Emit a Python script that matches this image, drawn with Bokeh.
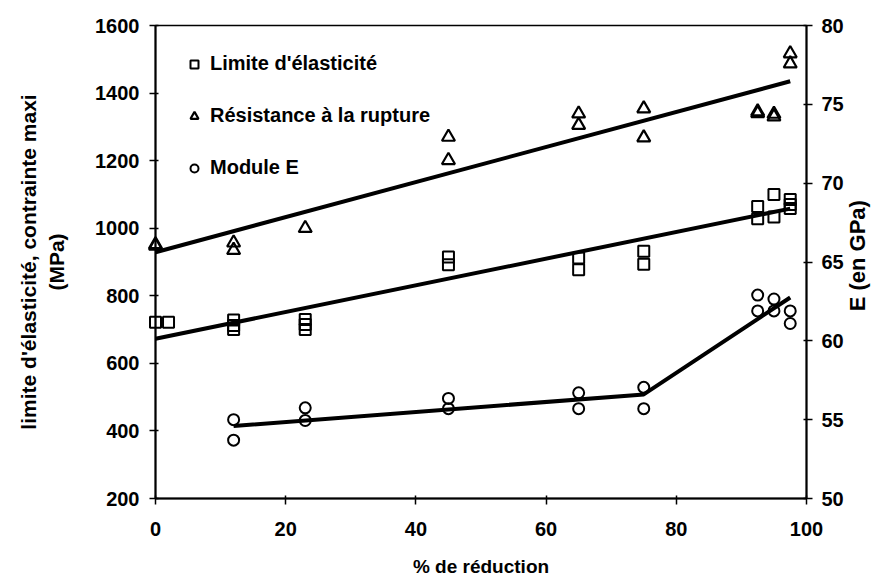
import math
from bokeh.plotting import figure
from bokeh.models import Range1d, LinearAxis, FixedTicker, Legend, LegendItem
from bokeh.core.properties import value
from bokeh.embed import file_html
from bokeh.resources import INLINE

# ---- data ----
lim_x = [0, 2, 12, 12, 12, 23, 23, 23, 45, 45, 65, 65, 75, 75, 92.5, 92.5, 95, 95, 97.5, 97.5, 97.5]
lim_y = [722, 722, 728, 712, 700, 730, 715, 700, 915, 892, 912, 877, 932, 893, 1064, 1028, 1100, 1033, 1085, 1070, 1058]

res_x = [0, 0, 12, 12, 23, 45, 45, 65, 65, 75, 75, 92.5, 92.5, 95, 95, 97.5, 97.5]
res_y = [952, 948, 957, 935, 1000, 1270, 1201, 1339, 1305, 1354, 1268, 1345, 1340, 1338, 1330, 1517, 1487]

mod_x = [12, 12, 23, 23, 45, 45, 65, 65, 75, 75, 92.5, 92.5, 95, 95, 97.5, 97.5]
mod_y = [55.0, 53.7, 55.75, 54.95, 56.35, 55.7, 56.7, 55.7, 57.05, 55.7, 62.9, 61.9, 62.65, 61.9, 61.9, 61.1]

trend_lim_x = [0, 97.5]
trend_lim_y = [673, 1058]
trend_res_x = [0, 97.5]
trend_res_y = [929, 1435]
trend_mod_x = [12, 75, 97.5]
trend_mod_y = [54.6, 56.6, 62.75]

x_ticks = [0, 20, 40, 60, 80, 100]
left_ticks = [200, 400, 600, 800, 1000, 1200, 1400, 1600]
right_ticks = [50, 55, 60, 65, 70, 75, 80]

labels = ["Limite d'élasticité", "Résistance à la rupture", "Module E"]
x_title = "% de réduction"
left_title = "limite d'élasticité, contrainte maxi\n(MPa)"
right_title = "E (en GPa)"

FONT = "Liberation Sans"

p = figure(width=872, height=585, x_range=Range1d(0, 100), y_range=Range1d(200, 1600),
           output_backend="svg", toolbar_location=None,
           min_border_left=155, min_border_right=66, min_border_top=25, min_border_bottom=87)
p.extra_y_ranges = {"E": Range1d(50, 80)}
p.xgrid.visible = False
p.ygrid.visible = False
p.outline_line_color = "black"
p.outline_line_width = 1.5
p.background_fill_color = "white"
p.border_fill_color = "white"

def style_axis(ax, ticks):
    ax.ticker = FixedTicker(ticks=ticks)
    ax.axis_line_width = 2
    ax.axis_line_color = "black"
    ax.major_tick_line_width = 1.5
    ax.major_tick_line_color = "black"
    ax.minor_tick_line_color = None
    ax.major_tick_in = 3
    ax.major_tick_out = 6
    ax.major_label_text_font = FONT
    ax.major_label_text_font_style = "bold"
    ax.major_label_text_font_size = "20px"
    ax.major_label_text_color = "black"
    ax.axis_label_text_font = FONT
    ax.axis_label_text_font_style = "bold"
    ax.axis_label_text_font_size = "20px"
    ax.axis_label_text_color = "black"

xa = p.xaxis[0]
style_axis(xa, x_ticks)
xa.axis_label = x_title
xa.axis_label_text_font_size = "19px"
xa.major_label_standoff = 17
xa.axis_label_standoff = 17

ya = p.yaxis[0]
style_axis(ya, left_ticks)
ya.axis_label = left_title
ya.axis_label_text_font_size = "21px"
ya.major_label_standoff = 10
ya.axis_label_standoff = 24

ra = LinearAxis(y_range_name="E")
style_axis(ra, right_ticks)
ra.major_label_standoff = 9
p.add_layout(ra, "right")

# right axis title (reads bottom-to-top), drawn as an unclipped text glyph beside the frame
p.text(x=[107.8], y=[65.4], text=[right_title], angle=math.pi / 2,
       text_align="center", text_baseline="middle",
       text_font=value(FONT), text_font_style="bold", text_font_size="22px",
       text_color="black", y_range_name="E", level="overlay")

# trend lines
p.line(trend_res_x, trend_res_y, line_color="black", line_width=4)
p.line(trend_lim_x, trend_lim_y, line_color="black", line_width=4)
p.line(trend_mod_x, trend_mod_y, line_color="black", line_width=4, y_range_name="E")

r_sq = p.scatter(lim_x, lim_y, marker="square", size=11, fill_color=None,
                 line_color="black", line_width=2, level="overlay")
r_tr = p.scatter(res_x, res_y, marker="triangle", size=13, fill_color=None,
                 line_color="black", line_width=2.2, level="overlay")
r_ci = p.scatter(mod_x, mod_y, marker="circle", size=11, fill_color=None,
                 line_color="black", line_width=2, y_range_name="E", level="overlay")

legend = Legend(items=[LegendItem(label=labels[0], renderers=[r_sq]),
                       LegendItem(label=labels[1], renderers=[r_tr]),
                       LegendItem(label=labels[2], renderers=[r_ci])],
                location="top_left")
legend.margin = 27
legend.padding = 0
legend.spacing = 29
legend.glyph_width = 24
legend.glyph_height = 20
legend.label_height = 20
legend.label_standoff = 4
legend.label_text_font = FONT
legend.label_text_font_style = "bold"
legend.label_text_font_size = "20px"
legend.label_text_color = "black"
legend.background_fill_alpha = 0
legend.border_line_color = None
p.add_layout(legend)

open("out.html", "w").write(file_html(p, INLINE))
